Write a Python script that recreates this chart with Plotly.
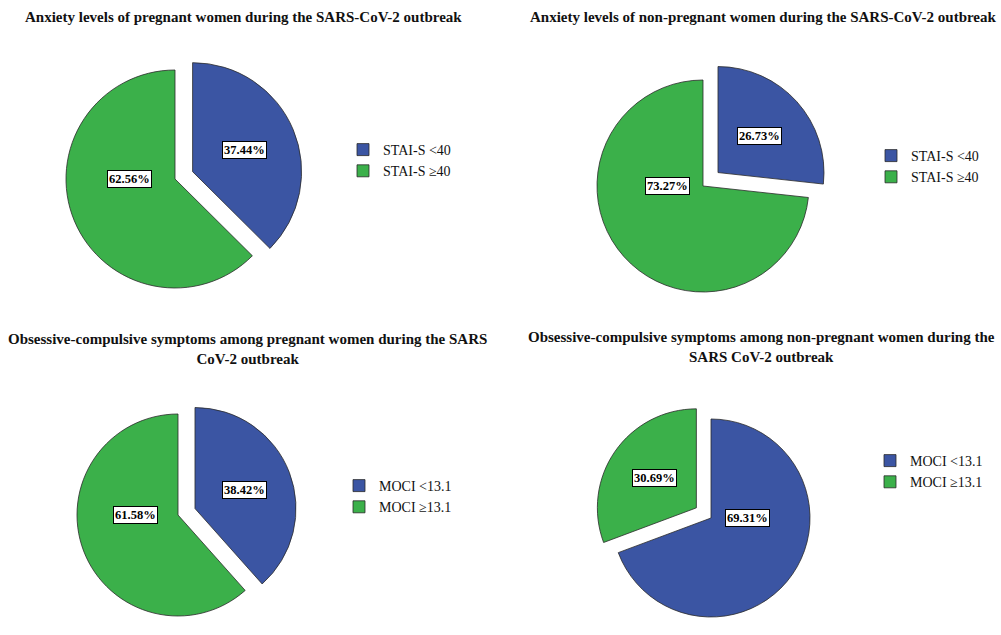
import math
import plotly.graph_objects as go

W, H = 1001, 635

# ---------------- data ----------------
titles = [
    "Anxiety levels of pregnant women during the SARS-CoV-2 outbreak",
    "Anxiety levels of non-pregnant women during the SARS-CoV-2 outbreak",
    "Obsessive-compulsive symptoms among pregnant women during the SARS<br>CoV-2 outbreak",
    "Obsessive-compulsive symptoms among non-pregnant women during the<br>SARS CoV-2 outbreak",
]
stai_labels = ["STAI-S <40", "STAI-S ≥40"]
moci_labels = ["MOCI <13.1", "MOCI ≥13.1"]
pregnant_stai = [37.44, 62.56]
nonpregnant_stai = [26.73, 73.27]
pregnant_moci = [38.42, 61.58]
nonpregnant_moci = [69.31, 30.69]

# ---------------- style / layout ----------------
colors = ["#3B55A3", "#3BB04A"]
FONT = "Liberation Serif, Times New Roman, serif"
ZW = "\u200b"  # keeps the per-pie legends separate (pie legends merge by label)

panels = [
    dict(labels=stai_labels, values=pregnant_stai, pull=[0.175, 0],
         cx=175, cy=179, r=109, title_xy=(243, 17), legend_xy=(343, 134)),
    dict(labels=[l + ZW for l in stai_labels], values=nonpregnant_stai, pull=[0.19, 0],
         cx=703, cy=186, r=106, title_xy=(763, 17), legend_xy=(871, 140)),
    dict(labels=moci_labels, values=pregnant_moci, pull=[0.18, 0],
         cx=178, cy=515, r=101, title_xy=(247, 349), legend_xy=(339, 470)),
    dict(labels=[l + ZW for l in moci_labels], values=nonpregnant_moci, pull=[0, 0.18],
         cx=711, cy=518, r=99, title_xy=(761, 347), legend_xy=(870, 445)),
]

fig = go.Figure()
annotations = []
legends = {}

for i, p in enumerate(panels):
    maxpull = max(p["pull"])
    half = p["r"] * (1 + maxpull)
    x0, x1 = (p["cx"] - half) / W, (p["cx"] + half) / W
    y0, y1 = 1 - (p["cy"] + half) / H, 1 - (p["cy"] - half) / H
    y0 = max(y0, 0)
    y1 = min(y1, 1)
    legname = "legend" if i == 0 else f"legend{i+1}"
    fig.add_trace(go.Pie(
        labels=p["labels"], values=p["values"], pull=p["pull"],
        sort=False, direction="clockwise", rotation=0,
        marker=dict(colors=colors, line=dict(color="#2a2a2a", width=0.8)),
        textinfo="none", hoverinfo="label+percent",
        domain=dict(x=[x0, x1], y=[y0, y1]),
        legend=legname, showlegend=True,
    ))
    lx, ly = p["legend_xy"]
    legends[legname] = dict(
        x=lx / W, y=1 - ly / H, xanchor="left", yanchor="top",
        bgcolor="rgba(0,0,0,0)", font=dict(family=FONT, size=14, color="#111"),
        itemclick=False, itemdoubleclick=False,
    )
    # title
    tx, ty = p["title_xy"]
    annotations.append(dict(
        x=tx / W, y=1 - ty / H, xref="paper", yref="paper",
        text=f"<b>{titles[i]}</b>", showarrow=False,
        font=dict(family=FONT, size=15, color="#111"),
        xanchor="center", yanchor="middle", align="center",
    ))
    # boxed percentage labels, placed from the slice angles
    total = sum(p["values"])
    cum = 0.0
    for v, pl in zip(p["values"], p["pull"]):
        frac = v / total
        theta = 2 * math.pi * (cum + frac / 2)
        cum += frac
        sx, sy = math.sin(theta), -math.cos(theta)
        ox = p["cx"] + pl * p["r"] * sx
        oy = p["cy"] + pl * p["r"] * sy
        if frac <= 0.5:
            lxp = ox + 0.52 * p["r"] * sx
            lyp = oy + 0.52 * p["r"] * sy
        else:
            lxp = ox + 0.45 * p["r"] * sx
            lyp = oy
        annotations.append(dict(
            x=lxp / W, y=1 - lyp / H, xref="paper", yref="paper",
            text=f"<b>{v:.2f}%</b>", showarrow=False,
            font=dict(family=FONT, size=12.5, color="#000"),
            bgcolor="white", bordercolor="#000", borderwidth=1, borderpad=1,
            xanchor="center", yanchor="middle",
        ))

fig.update_layout(
    width=W, height=H,
    margin=dict(l=0, r=0, t=0, b=0),
    paper_bgcolor="white", plot_bgcolor="white",
    annotations=annotations,
    **legends,
)

fig.write_html("out.html", config={"displayModeBar": False},
               post_script="document.body.style.margin='0';")
